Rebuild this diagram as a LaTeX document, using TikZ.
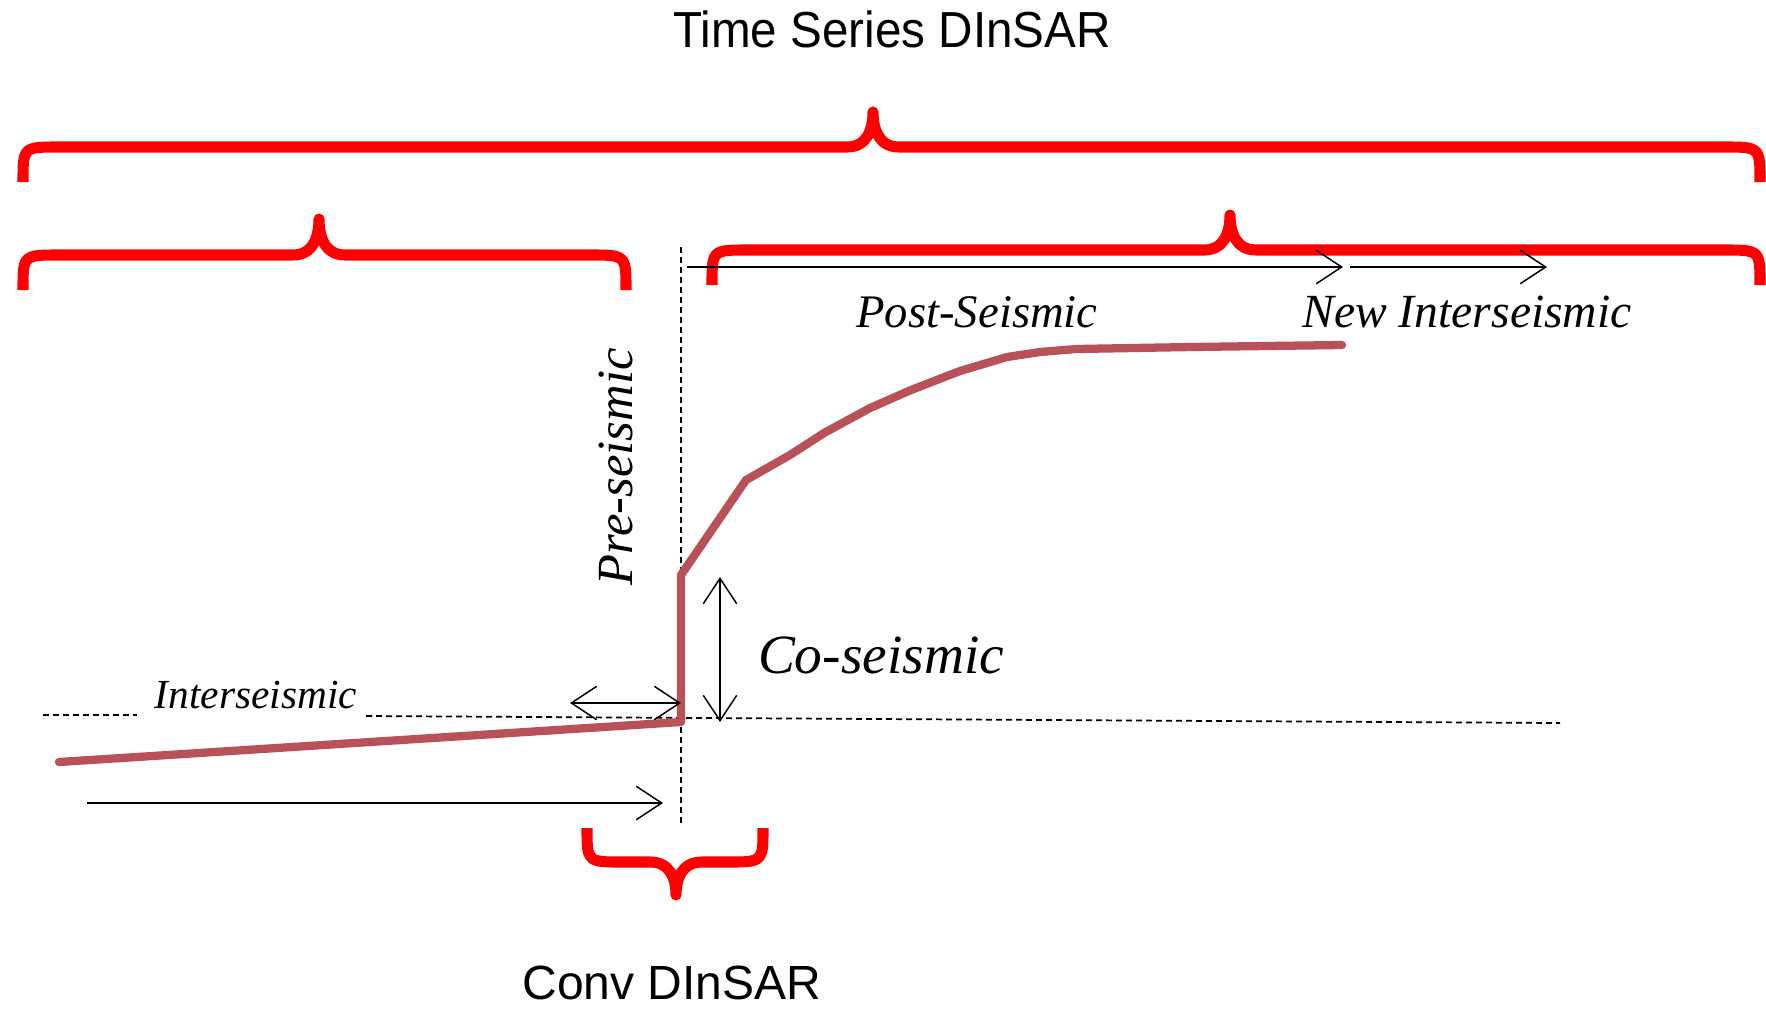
\documentclass[tikz,border=0pt]{standalone}
\usepackage{fontspec}
\setmainfont{Liberation Serif}
\newfontfamily\labsans{Liberation Sans}
\usetikzlibrary{arrows.meta}
\definecolor{bracered}{RGB}{255,0,0}
\definecolor{curvered}{RGB}{184,82,88}
% #1 left x, #2 right x, #3 end y, #4 line y, #5 tip x, #6 tip y
\newcommand\mybrace[6]{%
  \draw[bracestyle] (#1,#3) .. controls (#1,#4) .. ({#1+36},#4)
    -- ({#5-26},#4) .. controls ({#5-6},#4) and (#5,{#4+0.5*(#6-#4)}) .. (#5,#6)
    .. controls (#5,{#4+0.5*(#6-#4)}) and ({#5+6},#4) .. ({#5+26},#4)
    -- ({#2-36},#4) .. controls (#2,#4) .. (#2,#3);}
\tikzset{
  bracestyle/.style={draw=bracered, line width=8.3pt, line cap=butt, line join=round},
  refline/.style={draw=black, line width=1.3pt, dash pattern=on 4.5pt off 3pt},
  barb/.tip={Straight Barb[length=19pt,width=25pt,line width=1.1pt]},
  timearrow/.style={draw=black, line width=1.2pt, -barb},
  dblarrow/.style={draw=black, line width=1.2pt, barb-barb},
  curve/.style={draw=curvered, line width=6.2pt, line cap=round, line join=round},
  phase/.style={inner sep=0pt, anchor=base},
  title/.style={inner sep=0pt, anchor=base},
}
\begin{document}
\begin{tikzpicture}[x=0.75pt, y=-0.75pt]
\fill[white] (0,0) rectangle (1766,1008);
\useasboundingbox (0,0) rectangle (1766,1008);

% titles
\node[title, font=\labsans\fontsize{38pt}{44pt}\selectfont, xscale=0.94] (ts) at (892,47) {Time Series DInSAR};
\node[title, font=\labsans\fontsize{36pt}{42pt}\selectfont] (conv) at (672,999) {Conv DInSAR};

% braces
\mybrace{23}{1760}{182}{147}{873}{112}
\mybrace{23}{626}{290}{255}{319}{219}
\mybrace{712}{1760}{285}{250}{1230}{215}
\mybrace{587}{763}{828}{862}{676}{895}

% reference lines
\coordinate (vtop) at (681,247);
\coordinate (vbot) at (681,823);
\draw[refline] (vtop) -- (vbot);
\coordinate (hl1) at (43,715);
\coordinate (hl2) at (137,715);
\coordinate (hr1) at (366,716);
\coordinate (hr2) at (1560,723);
\draw[refline] (hl1) -- (hl2);
\draw[refline] (hr1) -- (hr2);

% displacement curve
\draw[curve] (59,762) -- (681,722) -- (681,575) -- (746,480) -- (790,455) -- (824,433)
  -- (870,408) -- (911,390) -- (960,371) -- (1007,357) -- (1040,352) -- (1076,349) -- (1191,347) -- (1342,345);

% arrows
\coordinate (b1) at (87,803);
\coordinate (b2) at (663,803);
\draw[timearrow] (b1) -- (b2);
\coordinate (h1) at (570,703);
\coordinate (h2) at (681,703);
\draw[dblarrow] (h1) -- (h2);
\coordinate (v1) at (720,577);
\coordinate (v2) at (720,722);
\draw[dblarrow] (v1) -- (v2);
\coordinate (t1) at (687,267);
\coordinate (t2) at (1343,267);
\coordinate (t3) at (1350,267);
\coordinate (t4) at (1547,267);
\draw[timearrow] (t1) -- (t2);
\draw[timearrow] (t3) -- (t4);

% phase labels
\node[phase, font=\itshape\fontsize{35pt}{40pt}\selectfont] (post) at (977,327) {Post-Seismic};
\node[phase, font=\itshape\fontsize{35.7pt}{40pt}\selectfont] (newi) at (1467,327) {New Interseismic};
\node[phase, font=\itshape\fontsize{41.5pt}{46pt}\selectfont] (co) at (881,673) {Co-seismic};
\node[phase, font=\itshape\fontsize{31pt}{36pt}\selectfont] (inter) at (256,708) {Interseismic};
\node[phase, font=\itshape\fontsize{38pt}{44pt}\selectfont, rotate=90] (pre) at (632,467) {Pre-seismic};
\end{tikzpicture}
\end{document}
